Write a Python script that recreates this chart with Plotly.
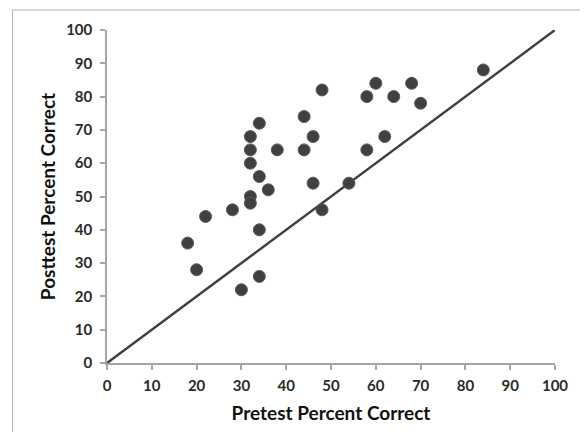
import plotly.graph_objects as go

pretest = [18, 20, 22, 28, 30, 32, 32, 32, 32, 32, 34, 34, 34, 34, 36, 38,
           44, 44, 46, 46, 48, 48, 54, 58, 58, 60, 62, 64, 68, 70, 84]
posttest = [36, 28, 44, 46, 22, 68, 64, 60, 50, 48, 72, 56, 40, 26, 52, 64,
            74, 64, 68, 54, 82, 46, 54, 80, 64, 84, 68, 80, 84, 78, 88]
line_x = [0, 100]
line_y = [0, 100]
tick_vals = [0, 10, 20, 30, 40, 50, 60, 70, 80, 90, 100]

fig = go.Figure()
fig.add_trace(go.Scatter(x=line_x, y=line_y, mode="lines",
                         line=dict(color="#3f3f3f", width=2.5), showlegend=False, hoverinfo="skip"))
fig.add_trace(go.Scatter(x=pretest, y=posttest, mode="markers",
                         marker=dict(size=12, color="#404040", line=dict(color="#5a5a5a", width=1)),
                         showlegend=False))

tickfont = dict(family="Lato", size=15, color="#2a2a2a", weight="bold")
axis_common = dict(range=[0, 100], tickvals=tick_vals, showgrid=False, zeroline=False,
                   showline=True, linecolor="#a6a6a6", linewidth=1.5,
                   ticks="outside", ticklen=5, tickcolor="#a6a6a6", tickwidth=1.5,
                   tickfont=tickfont)

fig.update_xaxes(**axis_common, ticklabelstandoff=3,
                 title=dict(text="Pretest Percent Correct",
                            font=dict(family="Lato", size=19, color="#111", weight="bold"), standoff=14))
fig.update_yaxes(**axis_common, ticklabelstandoff=5,
                 title=dict(text="Posttest Percent Correct",
                            font=dict(family="Lato", size=19, color="#111", weight="bold"), standoff=5))

fig.add_shape(type="rect", xref="paper", yref="paper", x0=-0.211, x1=1.069, y0=-0.25, y1=1.06,
              line=dict(color="#b0b0b0", width=1), fillcolor="rgba(0,0,0,0)", layer="below")

fig.update_layout(width=588, height=432, margin=dict(l=99, r=41, t=20, b=77),
                  plot_bgcolor="white", paper_bgcolor="white")
fig.write_html("out.html")
